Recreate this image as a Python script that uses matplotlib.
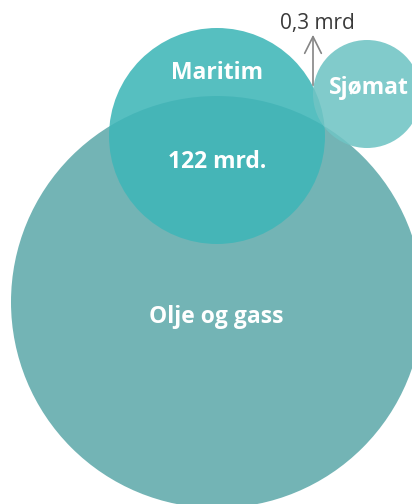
import matplotlib
matplotlib.use("Agg")
import matplotlib.pyplot as plt
from matplotlib.patches import Circle

# data
labels = ["Olje og gass", "Maritim", "Sjømat"]
value_labels = ["", "122 mrd.", "0,3 mrd"]

# layout (pixel coords, y down)
centers = [(217, 302), (217, 136), (367, 94)]
radii = [206, 108, 54]
colors = ["#73b4b5", "#3fb6b8", "#70c4c4"]
alphas = [1.0, 0.88, 0.88]

plt.rcParams["font.family"] = ["Open Sans", "DejaVu Sans"]

fig = plt.figure(figsize=(4.12, 5.04), dpi=100)
ax = fig.add_axes([0, 0, 1, 1])
ax.set_xlim(0, 412)
ax.set_ylim(504, 0)
ax.set_aspect("equal")
ax.axis("off")

for (cx, cy), r, c, a in zip(centers, radii, colors, alphas):
    ax.add_patch(Circle((cx, cy), r, facecolor=c, alpha=a, edgecolor="none"))

# labels
fs = 16.5
ax.text(216, 317, labels[0], color="white", fontsize=fs, fontweight="bold",
        ha="center", va="center")
ax.text(217, 73, labels[1], color="white", fontsize=fs, fontweight="bold",
        ha="center", va="center")
ax.text(217, 162, value_labels[1], color="white", fontsize=fs, fontweight="bold",
        ha="center", va="center")
ax.text(369, 88, labels[2], color="white", fontsize=fs, fontweight="bold",
        ha="center", va="center")

# arrow for the small value
ax.annotate("", xy=(313, 32), xytext=(313, 88),
            arrowprops=dict(arrowstyle="->,head_length=0.6,head_width=0.3",
                            color="#858585", lw=1.2, mutation_scale=20))
ax.text(317, 23, value_labels[2], color="#3a3a3a", fontsize=15,
        ha="center", va="center")

fig.savefig("out.png", dpi=100)
